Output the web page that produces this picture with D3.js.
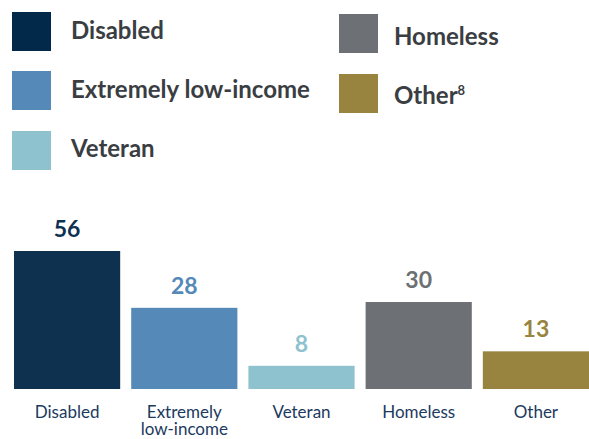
<!DOCTYPE html>
<html><head><meta charset="utf-8">
<script src="https://cdn.jsdelivr.net/npm/d3@7"></script>
<style>
html,body{margin:0;padding:0;background:#fff;}
svg{display:block;font-family:"Source Sans Pro","Lato","Noto Sans",sans-serif;}
</style></head>
<body>
<svg id="chart" width="589" height="439"></svg>
<script>
const categories = ["Disabled", "Extremely low-income", "Veteran", "Homeless", "Other"];
const axisLabels = [["Disabled"], ["Extremely", "low-income"], ["Veteran"], ["Homeless"], ["Other"]];
const values = [56, 28, 8, 30, 13];
const colors = ["#0e3150", "#5489b8", "#8ec2ce", "#6d7074", "#98843f"];
const legendColors = ["#03294a", "#5489b8", "#8ec2ce", "#6d7074", "#98843f"];
const legendLabels = ["Disabled", "Extremely low-income", "Veteran", "Homeless", "Other"];

const svg = d3.select("#chart");

// legend
const legendPos = [
  {x: 12, y: 12, tx: 71, ty: 39},
  {x: 12, y: 71, tx: 71, ty: 98},
  {x: 12, y: 131, tx: 71, ty: 157},
  {x: 339, y: 14, tx: 394, ty: 45},
  {x: 339, y: 74, tx: 394, ty: 104}
];
const lg = svg.append("g");
legendLabels.forEach((l, i) => {
  const p = legendPos[i];
  lg.append("rect").attr("x", p.x).attr("y", p.y).attr("width", 39).attr("height", 39).attr("fill", legendColors[i]);
  const t = lg.append("text").attr("x", p.tx).attr("y", p.ty)
    .attr("fill", "#3a3d42").attr("font-size", 24).attr("font-weight", 700).text(l);
  if (l === "Other") {
    t.append("tspan").attr("font-size", 13).attr("dy", -9).text("8");
  }
});

// bars
const x = d3.scaleBand().domain(categories).range([14, 589]).paddingInner(11/117).paddingOuter(0);
const y = d3.scaleLinear().domain([0, 47.6]).range([389, 251]).clamp(true);

const g = svg.append("g");
g.selectAll("rect.bar").data(categories).join("rect").attr("class", "bar")
  .attr("x", d => x(d)).attr("width", x.bandwidth())
  .attr("y", (d, i) => y(values[i])).attr("height", (d, i) => y(0) - y(values[i]))
  .attr("fill", (d, i) => colors[i]);

g.selectAll("text.val").data(categories).join("text").attr("class", "val")
  .attr("x", d => x(d) + x.bandwidth() / 2)
  .attr("y", (d, i) => y(values[i]) - 14)
  .attr("text-anchor", "middle").attr("font-size", 23).attr("font-weight", 700)
  .attr("fill", (d, i) => colors[i]).text((d, i) => values[i]);

const al = g.selectAll("text.ax").data(categories).join("text").attr("class", "ax")
  .attr("x", d => x(d) + x.bandwidth() / 2).attr("y", 418)
  .attr("text-anchor", "middle").attr("font-size", 17).attr("fill", "#1b3a5e");
al.each(function(d, i) {
  const t = d3.select(this);
  axisLabels[i].forEach((line, j) => {
    t.append("tspan").attr("x", x(d) + x.bandwidth() / 2).attr("dy", j === 0 ? 0 : 16.5).text(line);
  });
});
</script>
</body></html>
